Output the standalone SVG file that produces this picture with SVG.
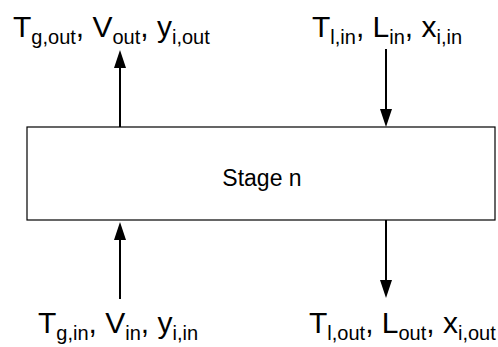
<svg xmlns="http://www.w3.org/2000/svg" width="498" height="347" viewBox="0 0 498 347">
  <style>
    .lbl { font-family: "Liberation Sans", Arial, sans-serif; font-size: 30px; fill: #000; }
    .sub { font-size: 20px; }
    .box { fill: #fff; stroke: #000; stroke-width: 1.2; }
    .flow { stroke: #000; stroke-width: 2; fill: none; marker-end: url(#head); }
  </style>
  <defs>
    <marker id="head" markerUnits="userSpaceOnUse" markerWidth="18" markerHeight="12" refX="0" refY="6" orient="auto" overflow="visible">
      <path d="M0,0 L18,6 L0,12 Z" fill="#000"/>
    </marker>
  </defs>
  <rect width="498" height="347" fill="#fff"/>

  <g id="stage">
    <rect class="box" x="27" y="127" width="468" height="93"/>
    <text class="lbl" x="262" y="186" text-anchor="middle" style="font-size:23px">Stage n</text>
  </g>

  <g id="connectors">
    <line class="flow" x1="120" y1="127" x2="120" y2="68"/>
    <line class="flow" x1="386" y1="49" x2="386" y2="109"/>
    <line class="flow" x1="120" y1="299" x2="120" y2="240"/>
    <line class="flow" x1="386" y1="220" x2="386" y2="280"/>
  </g>

  <g id="gas-out">
    <text class="lbl" x="13" y="37">T<tspan class="sub" dy="7">g,out</tspan><tspan dy="-7">, V</tspan><tspan class="sub" dy="7">out</tspan><tspan dy="-7">, y</tspan><tspan class="sub" dy="7">i,out</tspan></text>
  </g>

  <g id="liquid-in">
    <text class="lbl" x="312" y="37">T<tspan class="sub" dy="7">l,in</tspan><tspan dy="-7">, L</tspan><tspan class="sub" dy="7">in</tspan><tspan dy="-7">, x</tspan><tspan class="sub" dy="7">i,in</tspan></text>
  </g>

  <g id="gas-in">
    <text class="lbl" x="38" y="333">T<tspan class="sub" dy="7">g,in</tspan><tspan dy="-7">, V</tspan><tspan class="sub" dy="7">in</tspan><tspan dy="-7">, y</tspan><tspan class="sub" dy="7">i,in</tspan></text>
  </g>

  <g id="liquid-out">
    <text class="lbl" x="309" y="333">T<tspan class="sub" dy="7">l,out</tspan><tspan dy="-7">, L</tspan><tspan class="sub" dy="7">out</tspan><tspan dy="-7">, x</tspan><tspan class="sub" dy="7">i,out</tspan></text>
  </g>
</svg>
